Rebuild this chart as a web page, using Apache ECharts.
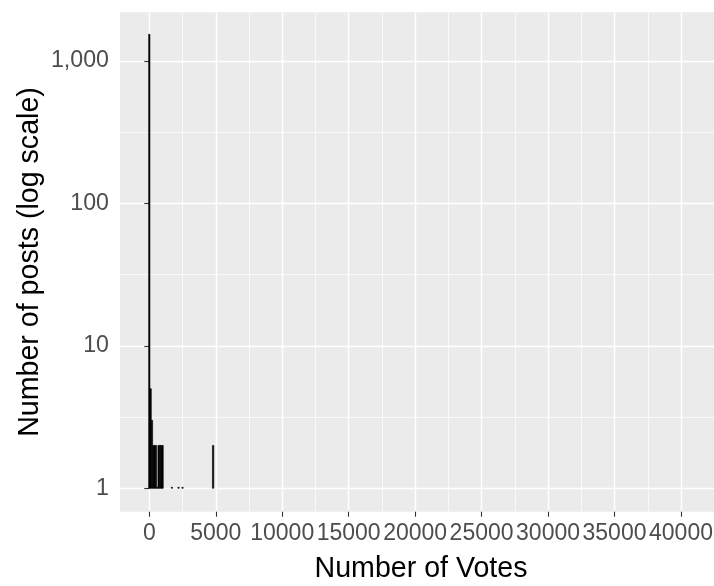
<!DOCTYPE html>
<html>
<head>
<meta charset="utf-8">
<script src="https://cdn.jsdelivr.net/npm/echarts@6/dist/echarts.min.js"></script>
<style>
  html, body { margin: 0; padding: 0; background: #ffffff; }
  #chart { width: 714px; height: 586px; }
</style>
</head>
<body>
<div id="chart"></div>
<script>
// Histogram bins (bin width 100 votes), centers and counts
const binWidth = 100;
const binCenters = [0, 100, 200, 300, 400, 500, 600, 700, 800, 900, 1000, 1700, 2200, 2500, 4800];
const binCounts  = [1540, 5, 3, 2, 2, 2, 1, 2, 2, 2, 2, 1, 1, 1, 2];

// Axis breaks
const xMajorTicks = [0, 5000, 10000, 15000, 20000, 25000, 30000, 35000, 40000];
const xMinorTicks = [2500, 7500, 12500, 17500, 22500, 27500, 32500, 37500, 42500];
const yMajorTicks = [1, 10, 100, 1000];
const yMinorTicks = [3.1623, 31.623, 316.23];

const xTitle = 'Number of Votes';
const yTitle = 'Number of posts (log scale)';

const data = binCenters.map((c, i) => [c, binCounts[i]]);

const FONT = '"Liberation Sans", Arial, sans-serif';
const xMin = -2204, xMax = 43086;
const yMin = 0.685, yMax = 2198;

const chart = echarts.init(document.getElementById('chart'), null, { renderer: 'canvas' });
chart.setOption({
  backgroundColor: '#ffffff',
  animation: false,
  grid: {
    left: 120, top: 12.3, right: -8, bottom: 74.3,
    outerBoundsMode: 'none', containLabel: false,
    show: true, backgroundColor: '#EBEBEB', borderWidth: 0
  },
  xAxis: [
    {
      type: 'value', min: xMin, max: xMax,
      name: xTitle, nameLocation: 'middle', nameGap: 42.5, nameMoveOverlap: false,
      nameTextStyle: { fontFamily: FONT, fontSize: 28.6, color: '#000000' },
      axisLine: { show: false },
      axisTick: { show: true, length: 5, lineStyle: { color: '#333333', width: 1.1 }, customValues: xMajorTicks },
      axisLabel: {
        show: true, customValues: xMajorTicks, margin: 10, fontFamily: FONT, fontSize: 23, color: '#4D4D4D',
        showMinLabel: true, showMaxLabel: true, hideOverlap: false, interval: 0,
        formatter: v => String(Math.round(v))
      },
      splitLine: { show: true, lineStyle: { color: '#ffffff', width: 1.4 } }
    },
    {
      type: 'value', min: xMin, max: xMax, position: 'top',
      axisLine: { show: false },
      axisTick: { show: false, customValues: xMinorTicks },
      axisLabel: { show: false },
      splitLine: { show: true, lineStyle: { color: '#ffffff', width: 0.7 } }
    }
  ],
  yAxis: [
    {
      type: 'log', logBase: 10, min: yMin, max: yMax,
      name: yTitle, nameLocation: 'middle', nameGap: 75, nameRotate: 90, nameMoveOverlap: false,
      nameTextStyle: { fontFamily: FONT, fontSize: 28.6, color: '#000000' },
      axisLine: { show: false },
      axisTick: { show: true, length: 5, lineStyle: { color: '#333333', width: 1.1 }, customValues: yMajorTicks },
      axisLabel: {
        show: true, customValues: yMajorTicks, margin: 11, fontFamily: FONT, fontSize: 23.2, color: '#4D4D4D',
        showMinLabel: true, showMaxLabel: true, hideOverlap: false,
        formatter: v => Math.round(v).toLocaleString('en-US')
      },
      splitLine: { show: true, lineStyle: { color: '#ffffff', width: 1.4 } }
    },
    {
      type: 'log', logBase: 10, min: yMin, max: yMax, position: 'right',
      axisLine: { show: false },
      axisTick: { show: false, customValues: yMinorTicks },
      axisLabel: { show: false },
      splitLine: { show: true, lineStyle: { color: '#ffffff', width: 0.7 } }
    }
  ],
  series: [
    {
      type: 'custom',
      xAxisIndex: 0, yAxisIndex: 0,
      encode: { x: 0, y: 1 },
      data: data,
      renderItem: function (params, api) {
        const c = api.value(0), n = api.value(1);
        const pTop = api.coord([c - binWidth / 2, n]);
        const pBase = api.coord([c + binWidth / 2, 1]);
        let h = pBase[1] - pTop[1];
        if (h < 1) h = 1;
        return {
          type: 'rect',
          shape: { x: pTop[0], y: pBase[1] - h, width: pBase[0] - pTop[0], height: h },
          style: { fill: '#000000', stroke: '#000000', lineWidth: 0.6 }
        };
      }
    }
  ]
});
</script>
</body>
</html>
